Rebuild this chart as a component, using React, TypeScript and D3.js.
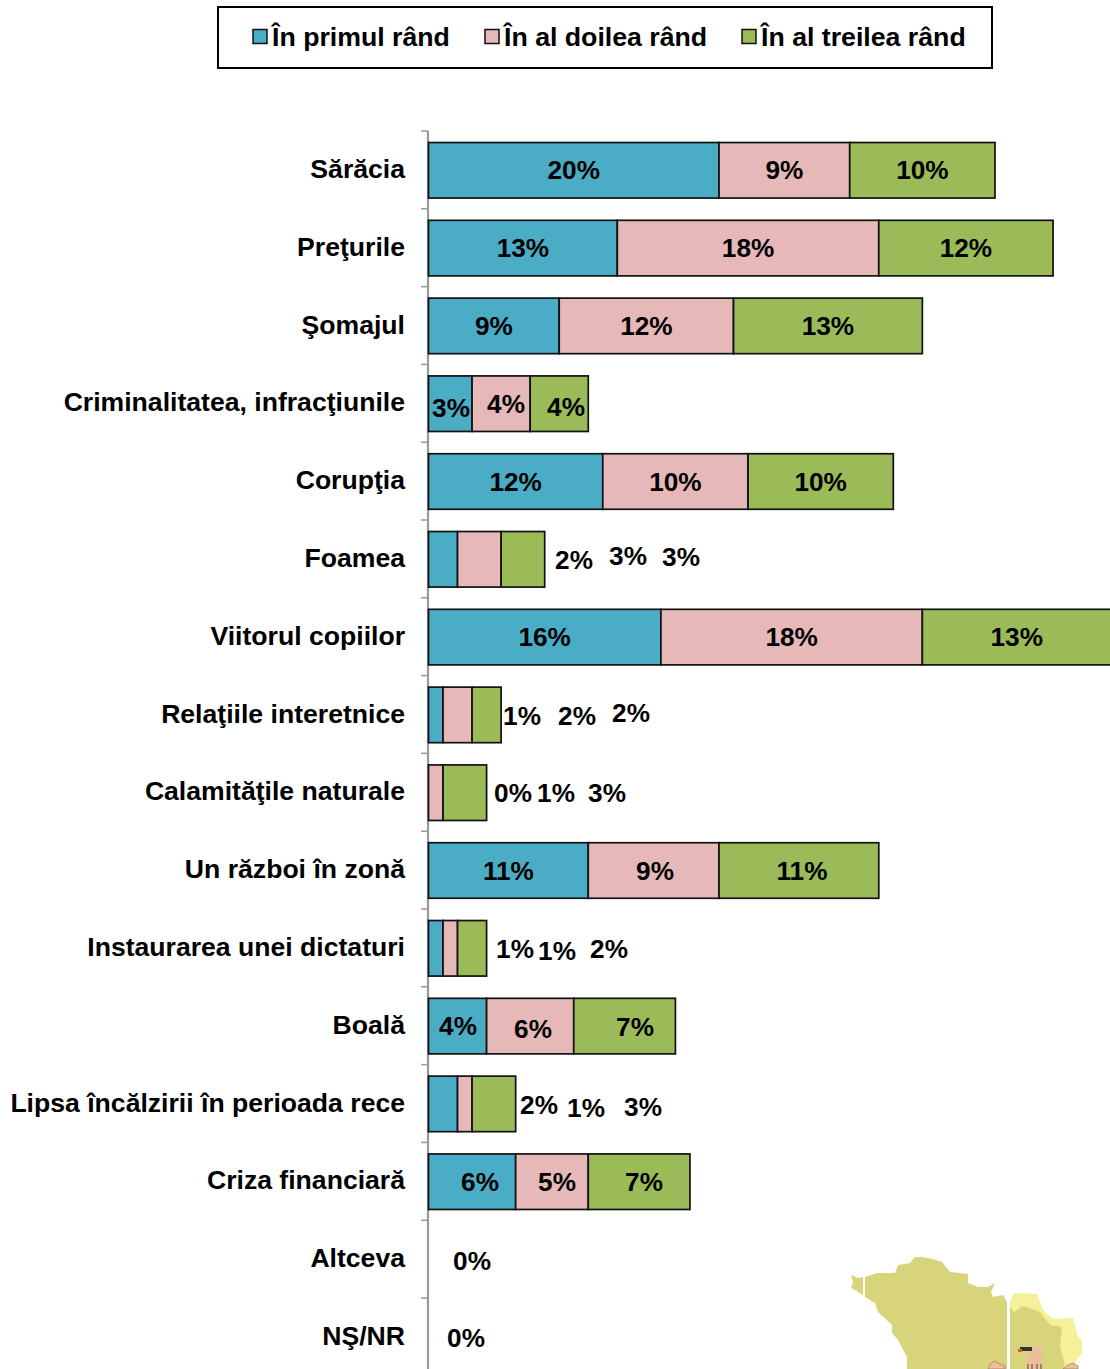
import React from "react";
import * as d3 from "d3";

const categories = ["Sărăcia","Preţurile","Şomajul","Criminalitatea, infracţiunile","Corupţia","Foamea","Viitorul copiilor","Relaţiile interetnice","Calamităţile naturale","Un război în zonă","Instaurarea unei dictaturi","Boală","Lipsa încălzirii în perioada rece","Criza financiară","Altceva","NŞ/NR"];
const seriesNames = ["În primul rând","În al doilea rând","În al treilea rând"];
const primul = [20,13,9,3,12,2,16,1,0,11,1,4,2,6,0,0];
const doilea = [9,18,12,4,10,3,18,2,1,9,1,6,1,5,0,0];
const treilea = [10,12,13,4,10,3,13,2,3,11,2,7,3,7,0,0];
const seriesValues = [primul, doilea, treilea];
const colors = ["#4BACC6","#E6B9B8","#9BBB59"];

// hand-placed data labels of the reference: [x, y] per row and series; null = hidden; absent = centred
const labelNudge: Record<string, [number, number] | null> = {
  "3-0":[451,408],"3-1":[506,404],"3-2":[566,407],
  "5-0":[574,560],"5-1":[628,556],"5-2":[681,557],
  "7-0":[522,716],"7-1":[577,716],"7-2":[631,713],
  "8-0":[513,793],"8-1":[556,793],"8-2":[607,793],
  "9-1":[655,871],"9-2":[802,871],
  "10-0":[515,949],"10-1":[557,951],"10-2":[609,949],
  "11-0":[458,1026],"11-1":[533,1029],"11-2":[635,1027],
  "12-0":[539,1105],"12-1":[586,1108],"12-2":[643,1107],
  "13-0":[480,1182],"13-1":[557,1182],"13-2":[644,1182],
  "14-0":[472,1261],"14-1":null,"14-2":null,
  "15-0":[466,1338],"15-1":null,"15-2":null,
};

const legendX = [253, 485, 742];
const font = "'Liberation Sans', Arial, sans-serif";

const mapLeftTip = [[851,1275],[858,1278],[863,1277],[863,1295],[855,1290],[851,1288],[853,1282]];
const mapMain = [[865,1277],[877,1273],[895,1273],[898,1265],[910,1263],[915,1257],[922,1257],[933,1259],[942,1262],[950,1272],[968,1274],[968,1283],[978,1287],[988,1287],[995,1283],[991,1292],[993,1297],[1003,1295],[1007,1302],[1007,1369],[907,1369],[907,1357],[898,1340],[892,1333],[892,1325],[878,1312],[875,1303],[865,1297]];
const mapRightLight = [[1010,1369],[1010,1302],[1014,1293],[1037,1294],[1043,1310],[1053,1319],[1073,1318],[1078,1337],[1082,1340],[1082,1353],[1070,1369]];
const mapRightDark = [[1010,1369],[1010,1306],[1014,1312],[1022,1306],[1030,1308],[1040,1312],[1050,1325],[1062,1327],[1060,1347],[1065,1365],[1063,1369]];
const mapFigure = [[1027,1348],[1040,1347],[1042,1352],[1042,1369],[1027,1369]];
const mapHandA = [[988,1369],[991,1363],[995,1361],[1000,1364],[1005,1366],[1005,1369]];
const mapHandB = [[1063,1369],[1068,1365],[1073,1363],[1078,1366],[1078,1369]];
const figureLegs = [1028, 1032, 1037, 1041];

export default function App() {
  const y = d3.scaleBand<string>().domain(categories).range([131, 131 + 77.8 * 16]).paddingInner(0.286).paddingOuter(0.143);
  const x = d3.scaleLinear().domain([0, 20]).range([428.5, 719]);
  const tickYs = d3.range(categories.length).map((i) => 131 + 77.8 * i);
  const stacked = d3.stack<number>().keys([0, 1, 2] as any).value((i, k: any) => seriesValues[k][i])(d3.range(categories.length));
  const poly = d3.line().curve(d3.curveLinearClosed);
  return (
    <svg width={1110} height={1369} style={{ position: "absolute", left: 0, top: 0, display: "block", background: "#fff" }} fontFamily={font} fontWeight="bold">
      <path d={poly(mapLeftTip as any)!} fill="#D7D47C" />
      <path d={poly(mapMain as any)!} fill="#D7D47C" />
      <path d={poly(mapRightLight as any)!} fill="#F6F09A" />
      <path d={poly(mapRightDark as any)!} fill="#D7D47C" />
      <path d={poly(mapFigure as any)!} fill="#EDBE9A" />
      <path d={poly(mapHandA as any)!} fill="#EDBE9A" stroke="#9a7a60" strokeWidth={0.7} />
      <path d={poly(mapHandB as any)!} fill="#EDBE9A" stroke="#9a7a60" strokeWidth={0.7} />
      {figureLegs.map((l) => <line key={l} x1={l} x2={l} y1={1364} y2={1369} stroke="#444" strokeWidth={1} />)}
      <rect x={1020} y={1347} width={12} height={4} fill="#333" />
      <rect x={1018} y={1349} width={4} height={3} fill="#D9661F" />
      <rect x={218} y={7} width={774} height={61} fill="#fff" stroke="#000" strokeWidth={2} />
      {seriesNames.map((n, i) => (
        <g key={n}>
          <rect x={legendX[i]} y={29.5} width={14} height={14} fill={colors[i]} stroke="#111" strokeWidth={1.5} />
          <text x={legendX[i] + 19} y={46} fontSize={26.7}>{n}</text>
        </g>
      ))}
      <line x1={428} x2={428} y1={131} y2={1369} stroke="#999" strokeWidth={2.2} />
      {tickYs.map((t) => <line key={t} x1={421} x2={428} y1={t} y2={t} stroke="#999" strokeWidth={1.5} />)}
      {categories.map((c) => (
        <text key={c} x={405} y={y(c)! + y.bandwidth() / 2 + 8} textAnchor="end" fontSize={26.6}>{c}</text>
      ))}
      {stacked.map((s, k) => s.map((d, i) => {
        const w = x(d[1]) - x(d[0]);
        return w > 0 ? (
          <rect key={`${k}-${i}`} x={x(d[0])} y={y(categories[i])! + 0.4} width={w} height={y.bandwidth()} fill={colors[k]} stroke="#111" strokeWidth={1.7} />
        ) : null;
      }))}
      {stacked.map((s, k) => s.map((d, i) => {
        const key = `${i}-${k}`;
        const nudge = labelNudge[key];
        if (nudge === null) return null;
        const cx = nudge ? nudge[0] : (x(d[0]) + x(d[1])) / 2;
        const cy = nudge ? nudge[1] : y(categories[i])! + y.bandwidth() / 2 + 0.5;
        return <text key={key} x={cx} y={cy + 9} textAnchor="middle" fontSize={26.2}>{seriesValues[k][i]}%</text>;
      }))}
    </svg>
  );
}
